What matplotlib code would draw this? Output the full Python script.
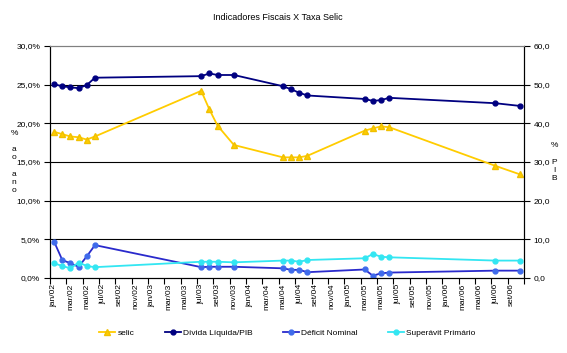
import matplotlib
matplotlib.use("Agg")
import matplotlib.pyplot as plt
from matplotlib.ticker import FixedLocator, FuncFormatter

# meses (nomes abreviados) usados nos rotulos do eixo x
nomes_mes = ["jan", "fev", "mar", "abr", "mai", "jun",
             "jul", "ago", "set", "out", "nov", "dez"]

# datas das observacoes (mes/ano)
meses = ["jan/02", "fev/02", "mar/02", "abr/02", "mai/02", "jun/02",
         "jul/03", "ago/03", "set/03", "nov/03",
         "mai/04", "jun/04", "jul/04", "ago/04",
         "mar/05", "abr/05", "mai/05", "jun/05",
         "jul/06", "out/06"]

# % ao ano (eixo esquerdo)
selic = [18.9, 18.6, 18.3, 18.2, 17.9, 18.3,
         24.2, 21.8, 19.7, 17.2,
         15.6, 15.6, 15.6, 15.8,
         19.05, 19.35, 19.6, 19.5,
         14.5, 13.4]

# % PIB (eixo direito)
divida = [50.1, 49.6, 49.3, 49.1, 49.9, 51.8,
          52.2, 52.9, 52.5, 52.5,
          49.6, 48.8, 47.9, 47.2,
          46.3, 45.8, 46.0, 46.6,
          45.2, 44.5]
deficit = [9.4, 4.65, 3.8, 2.9, 5.6, 8.5,
           2.8, 2.9, 2.9, 2.9,
           2.5, 2.1, 2.1, 1.5,
           2.2, 0.6, 1.2, 1.4,
           1.9, 1.9]
superavit = [3.8, 3.1, 2.5, 4.0, 3.1, 2.8,
             4.2, 4.2, 4.2, 4.05,
             4.5, 4.5, 4.2, 4.65,
             5.1, 6.2, 5.5, 5.35,
             4.5, 4.5]

# rotulos do eixo x: jan/02 ate set/06, de dois em dois meses
rotulos_x = [f"{nomes_mes[m % 12]}/{2 + m // 12:02d}" for m in range(0, 57, 2)]


def mes_idx(s):
    # "mai/04" -> numero de meses desde jan/02
    nome, ano = s.split("/")
    return (int(ano) - 2) * 12 + nomes_mes.index(nome)


x = [mes_idx(m) for m in meses]

plt.rcParams["font.family"] = ["Liberation Sans", "DejaVu Sans"]
fig = plt.figure(figsize=(5.67, 3.53), dpi=100)
ax = fig.add_axes([0.0882, 0.2125, 0.836, 0.6572])
ax2 = ax.twinx()

fs = 6

# series
l1, = ax.plot(x, selic, color="#FFCC00", lw=1.3, marker="^", ms=4,
              mec="#F0C000", mfc="#FFCC00", label="selic")
l2, = ax2.plot(x, divida, color="#000080", lw=1.3, marker="o", ms=3.5,
               label="Dívida Líquida/PIB")
l3, = ax2.plot(x, deficit, color="#2A2ACC", lw=1.3, marker="o", ms=3.5,
               mfc="#3F6BEB", mec="#3F6BEB", label="Déficit Nominal")
l4, = ax2.plot(x, superavit, color="#33E6F2", lw=1.3, marker="o", ms=3.5,
               label="Superávit Primário")

# eixos
ax.set_xlim(-0.5, 57.5)
ax.set_ylim(0, 30)
ax2.set_ylim(0, 60)
ax.set_yticks(range(0, 31, 5))
ax2.set_yticks(range(0, 61, 10))
ax.yaxis.set_major_formatter(FuncFormatter(lambda v, p: f"{v:.1f}%".replace(".", ",")))
ax2.yaxis.set_major_formatter(FuncFormatter(lambda v, p: f"{v:.1f}".replace(".", ",")))

ax.set_xticks(range(0, 57, 2))
ax.set_xticklabels(rotulos_x, rotation=90, fontsize=fs)
ax.xaxis.set_minor_locator(FixedLocator([-0.5 + 2 * k for k in range(30)]))
ax.tick_params(axis="x", which="major", length=0, pad=4)
ax.tick_params(axis="x", which="minor", length=4, width=0.8, direction="out")
ax.tick_params(axis="y", labelsize=fs, length=4, width=0.8, pad=3)
ax2.tick_params(axis="y", labelsize=fs, length=4, width=0.8, pad=3)

for y in range(5, 30, 5):
    ax.axhline(y, color="black", lw=0.8, zorder=0)

for a in (ax, ax2):
    a.spines["top"].set_color("#808080")
    a.spines["top"].set_linewidth(0.8)
    for s in ("left", "right", "bottom"):
        a.spines[s].set_linewidth(0.8)

# titulos dos eixos (letras empilhadas)
fig.text(14 / 567, 1 - 162 / 353, "%\n\na\no\n\na\nn\no", fontsize=fs,
         ha="center", va="center", linespacing=1.25)
fig.text(554 / 567, 1 - 162 / 353, "%\n\nP\nI\nB", fontsize=fs,
         ha="center", va="center", linespacing=1.25)

fig.text(0.49, 1 - 17 / 353, "Indicadores Fiscais X Taxa Selic",
         fontsize=6.5, ha="center", va="center")

fig.legend(handles=[l1, l2, l3, l4], loc="center", ncol=4,
           bbox_to_anchor=(0.507, 1 - 333 / 353), frameon=False,
           fontsize=fs, handlelength=1.9, handletextpad=0.3,
           columnspacing=3.6)

fig.savefig("out.png", dpi=100)
